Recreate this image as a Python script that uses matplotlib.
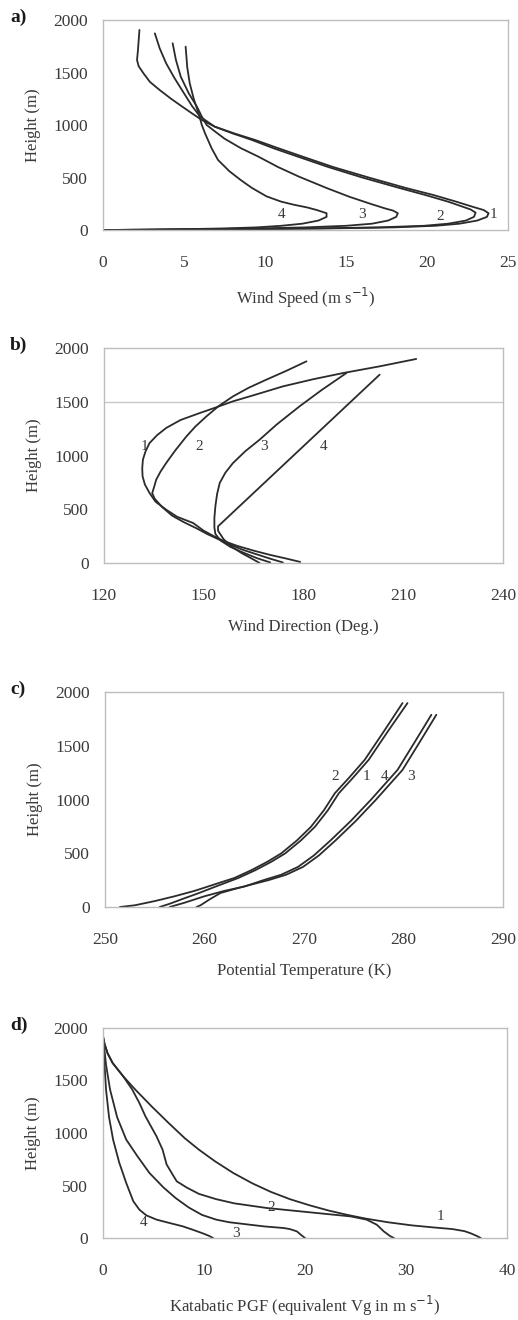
import matplotlib
matplotlib.use("Agg")
import matplotlib.pyplot as plt

plt.rcParams['font.family'] = ['Liberation Serif', 'DejaVu Serif']

W, H = 518, 1320

# ---- a) wind speed (m/s) vs height (m)
a_spd = {
    "1": [0, 4, 9, 14, 18, 20.5, 22, 23.1, 23.7, 23.8, 23.5, 22.8, 21.8, 20.4, 18.7, 16.4, 14.2,
          12.3, 10.8, 9.4, 8.1, 6.9, 6.1, 5.5, 4.9, 4.2, 3.5, 2.9, 2.5, 2.2, 2.1, 2.15, 2.2, 2.25],
    "2": [0, 4, 8.5, 13, 17, 19.8, 21.3, 22.4, 22.9, 23.0, 22.7, 22.2, 21.3, 19.9, 18.3, 16.0, 13.9,
          12.0, 10.5, 9.2, 8.0, 6.9, 6.0, 5.5, 5.0, 4.4, 3.9, 3.5, 3.2],
    "3": [0, 3, 6, 9.5, 12.5, 15.0, 16.6, 17.6, 18.1, 18.2, 17.9, 17.4, 16.5, 15.2, 13.8, 12.1, 10.8,
          9.6, 8.5, 7.5, 6.9, 6.4, 6.1, 5.8, 5.3, 4.8, 4.5, 4.3],
    "4": [0, 2.5, 5, 7.5, 9.5, 11.0, 12.3, 13.3, 13.8, 13.8, 13.2, 12.6, 11.8, 11.0, 10.1, 9.2, 8.5,
          7.8, 7.1, 6.7, 6.3, 6.1, 5.9, 5.6, 5.35, 5.2, 5.15, 5.1],
}
a_hgt = {
    "1": [0, 3, 8, 15, 25, 40, 60, 90, 125, 160, 190, 222, 270, 333, 400, 500, 600,
          700, 780, 857, 920, 984, 1048, 1110, 1174, 1250, 1333, 1410, 1492, 1560, 1619, 1700, 1800, 1905],
    "2": [0, 3, 8, 15, 25, 40, 60, 90, 125, 165, 195, 222, 270, 333, 400, 500, 600,
          700, 780, 857, 920, 984, 1079, 1180, 1302, 1450, 1587, 1730, 1873],
    "3": [0, 3, 8, 15, 25, 40, 60, 90, 125, 160, 185, 206, 250, 317, 400, 508, 600,
          698, 780, 870, 940, 1000, 1080, 1174, 1300, 1460, 1620, 1778],
    "4": [0, 3, 8, 15, 25, 40, 60, 90, 125, 160, 190, 215, 240, 270, 320, 400, 476,
          560, 667, 780, 920, 1000, 1111, 1250, 1400, 1550, 1650, 1746],
}
a_lab = {"1": (24.1, 143), "2": (20.8, 127), "3": (16.0, 143), "4": (11.0, 143)}

# ---- b) wind direction (deg) vs height (m)
b_dir = {
    "1": [179, 175, 170, 165, 160, 156, 153, 150, 146.8, 142, 138.7, 135.5, 133.7, 132.3, 131.6, 131.5,
          131.7, 132.5, 133.7, 136, 138.7, 143, 148.8, 153, 158.8, 166, 173.8, 183, 191.9, 203, 213.9],
    "2": [173.8, 170, 166, 162, 158, 154.5, 151, 148, 144, 140.5, 137.5, 135.2, 134.5, 135.0, 135.7,
          137, 138.7, 141.5, 144.8, 147.5, 150.8, 154.5, 158.8, 163.5, 168.8, 175, 180.9],
    "3": [170, 166, 162, 158, 155, 153.5, 153.2, 153.2, 153.5, 154, 154.8, 156.5, 158.8, 162.5, 166.8,
          172, 178.8, 185.5, 192.9],
    "4": [166.8, 164.5, 161.5, 158.5, 156, 154.3, 154.3, 202.9],
}
b_hgt = {
    "1": [10, 40, 75, 115, 160, 205, 250, 300, 372, 430, 496, 570, 651, 730, 806, 880,
          961, 1040, 1116, 1190, 1256, 1330, 1395, 1440, 1504, 1570, 1643, 1710, 1767, 1830, 1898],
    "2": [5, 40, 80, 120, 170, 220, 270, 320, 380, 440, 520, 600, 650, 700, 775,
          850, 930, 1050, 1178, 1270, 1364, 1460, 1550, 1630, 1705, 1790, 1876],
    "3": [5, 45, 95, 150, 210, 270, 330, 420, 527, 640, 744, 840, 930, 1040, 1147,
          1290, 1457, 1610, 1767],
    "4": [0, 40, 90, 150, 220, 300, 341, 1752],
}
b_lab = {"1": (132.2, 1085), "2": (148.5, 1085), "3": (168.1, 1085), "4": (185.9, 1085)}

# ---- c) potential temperature (K) vs height (m)
c_tmp = {
    "2": [251.5, 253, 255, 257, 259, 261, 263, 264.7, 266.3, 267.7, 269.3, 270.7, 272.0, 273.1,
          274.6, 276.1, 278.0, 279.9],
    "1": [255.5, 256.5, 257.8, 259.3, 261.4, 263.4, 265.1, 266.7, 268.1, 269.7, 271.1, 272.4,
          273.5, 275.0, 276.5, 278.4, 280.4],
    "4": [256.5, 258, 260, 262, 264, 265.9, 267.7, 269.4, 271.0, 272.7, 274.7, 276.7, 278.0,
          279.4, 281.1, 282.8],
    "3": [259.2, 259.6, 260.5, 261.6, 263.5, 266.4, 268.2, 269.9, 271.5, 273.2, 275.2, 277.2,
          278.5, 279.9, 281.6, 283.3],
}
c_hgt = {
    "2": [0, 16, 55, 100, 150, 210, 270, 342, 420, 498, 620, 746, 900, 1058, 1210, 1369, 1630, 1897],
    "1": [0, 30, 75, 125, 200, 270, 342, 420, 498, 620, 746, 900, 1058, 1210, 1369, 1630, 1897],
    "4": [0, 40, 100, 150, 190, 249, 300, 373, 480, 622, 800, 995, 1130, 1275, 1530, 1788],
    "3": [0, 16, 70, 130, 180, 249, 300, 373, 480, 622, 800, 995, 1130, 1275, 1530, 1788],
}
c_lab = {"2": (273.1, 1213), "1": (276.3, 1213), "4": (278.1, 1213), "3": (280.8, 1213)}

# ---- d) katabatic PGF (equivalent Vg, m/s) vs height (m)
d_pgf = {
    "1": [37.4, 37.0, 36.4, 35.8, 34.6, 32.8, 30.6, 28.2, 26.0, 24.2, 22.4, 20.5, 18.5, 16.6, 14.8,
          12.9, 11.1, 9.5, 8.1, 6.5, 4.85, 3.2, 2.0, 0.95, 0.45, 0.15, 0],
    "2": [28.8, 28.4, 27.8, 27.1, 26.1, 24.5, 22.0, 19.5, 16.2, 13.0, 11.2, 9.5, 8.3, 7.3, 6.9, 6.3,
          5.9, 5.3, 4.2, 3.6, 2.9, 2.0, 0.95, 0.45, 0.15, 0],
    "3": [20.0, 19.6, 19.2, 18.5, 17.9, 16.0, 14.5, 12.5, 11.2, 9.8, 8.5, 7.2, 6.0, 4.6, 3.4, 2.3,
          1.4, 0.7, 0.3, 0],
    "4": [10.9, 10.5, 10.0, 9.0, 7.9, 6.5, 5.3, 4.3, 3.6, 3.0, 2.3, 1.6, 1.0, 0.6, 0.3, 0.15, 0],
}
d_hgt = {
    "1": [0, 20, 45, 65, 85, 100, 120, 150, 185, 220, 260, 310, 370, 440, 520,
          619, 730, 841, 950, 1095, 1250, 1413, 1540, 1667, 1760, 1850, 1921],
    "2": [0, 20, 63, 127, 175, 206, 230, 254, 286, 330, 370, 420, 480, 540, 603, 700,
          841, 968, 1159, 1286, 1413, 1540, 1667, 1760, 1850, 1921],
    "3": [0, 30, 63, 85, 95, 110, 127, 150, 175, 220, 290, 380, 480, 619, 780, 937,
          1150, 1413, 1650, 1921],
    "4": [0, 20, 40, 75, 111, 145, 175, 215, 270, 350, 524, 720, 937, 1150, 1413, 1650, 1921],
}
d_lab = {"1": (33.4, 206), "2": (16.7, 286), "3": (13.2, 41), "4": (4.0, 143)}

panels = [
    # tag, x values, heights, labels, xlim, xticks, xlabel, box px (l, r, top, bottom)
    ("a)", a_spd, a_hgt, a_lab, (0, 25), [0, 5, 10, 15, 20, 25],
     "Wind Speed (m s$^{-1}$)", (103, 508, 20, 230)),
    ("b)", b_dir, b_hgt, b_lab, (120, 240), [120, 150, 180, 210, 240],
     "Wind Direction (Deg.)", (104, 503, 348, 563)),
    ("c)", c_tmp, c_hgt, c_lab, (250, 290), [250, 260, 270, 280, 290],
     "Potential Temperature (K)", (105, 503, 692, 907)),
    ("d)", d_pgf, d_hgt, d_lab, (0, 40), [0, 10, 20, 30, 40],
     "Katabatic PGF (equivalent Vg in m s$^{-1}$)", (103, 507, 1028, 1238)),
]

fig = plt.figure(figsize=(W / 100, H / 100), dpi=100)
line_col = "#2b2b2b"
text_col = "#3a3a3a"

for tag, xs, ys, labs, xlim, xticks, xlabel, (l, r, t, b) in panels:
    ax = fig.add_axes([l / W, 1 - b / H, (r - l) / W, (b - t) / H])
    for key in xs:
        ax.plot(xs[key], ys[key], color=line_col, lw=1.3,
                solid_joinstyle="round", solid_capstyle="round")
    for key, (lx, ly) in labs.items():
        ax.text(lx, ly, key, ha="center", va="center", fontsize=11, color=text_col)
    if tag == "b)":
        ax.axhline(1500, color="#c8c8c8", lw=1.0, zorder=0)
    ax.set_xlim(*xlim)
    ax.set_ylim(0, 2000)
    ax.set_xticks(xticks)
    ax.set_yticks([0, 500, 1000, 1500, 2000])
    ax.tick_params(length=0, labelsize=12.5, labelcolor=text_col)
    ax.tick_params(axis="x", pad=18)
    ax.tick_params(axis="y", pad=11)
    for s in ax.spines.values():
        s.set_color("#bdbdbd")
        s.set_linewidth(1.0)
    ax.set_xlabel(xlabel, fontsize=12, color=text_col, labelpad=11)
    ax.set_ylabel("Height (m)", fontsize=12, color=text_col, labelpad=9)
    fig.text(10 / W, 1 - (t - 3) / H, tag, fontsize=14, fontweight="bold",
             ha="left", va="center", color="#1a1a1a")

fig.savefig("out.png", dpi=100)
